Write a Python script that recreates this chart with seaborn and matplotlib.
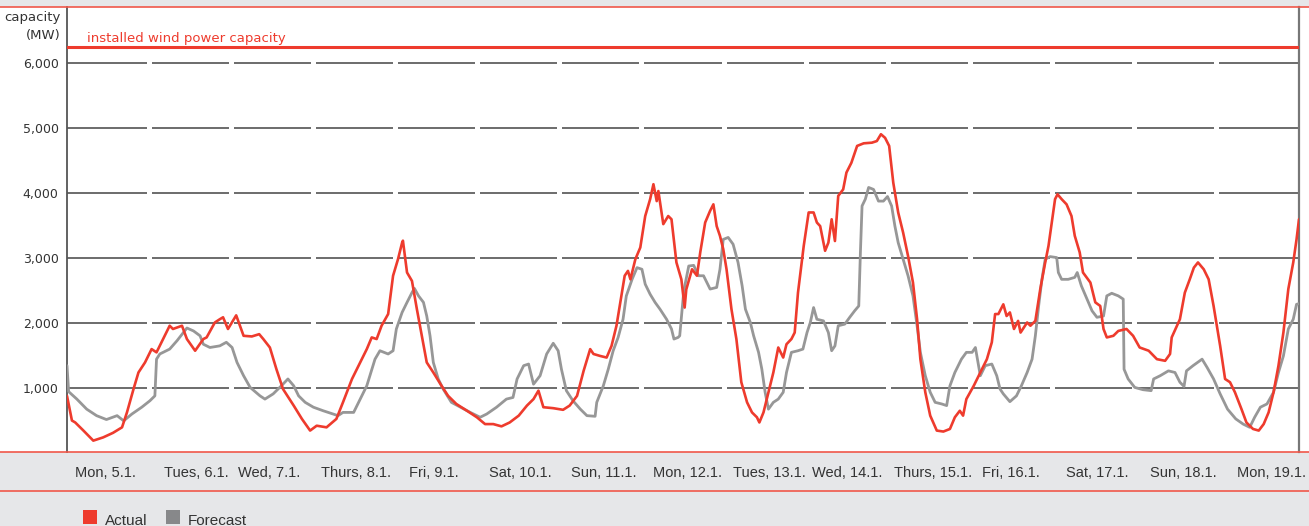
import numpy as np
import matplotlib
matplotlib.use("Agg")
import matplotlib.pyplot as plt
import seaborn as sns
from matplotlib.lines import Line2D
from matplotlib.patches import Rectangle

# Wind power, 5.1. - 19.1. (time in days from Mon 5.1. 00:00, values in MW)
actual_t = [0.00, 0.06, 0.10, 0.20, 0.32, 0.44, 0.56, 0.67, 0.73, 0.81, 0.87, 0.95,
            1.03, 1.09, 1.17, 1.25, 1.29, 1.40, 1.46, 1.56, 1.66, 1.70, 1.80, 1.86,
            1.90, 1.96, 2.06, 2.15, 2.25, 2.34, 2.39, 2.47, 2.55, 2.63, 2.76, 2.86,
            2.96, 3.04, 3.16, 3.28, 3.36, 3.47, 3.57, 3.65, 3.71, 3.77, 3.83, 3.91,
            3.97, 4.03, 4.08, 4.09, 4.14, 4.20, 4.26, 4.32, 4.38, 4.46, 4.56, 4.64,
            4.74, 4.87, 4.99, 5.09, 5.19, 5.29, 5.39, 5.50, 5.60, 5.68, 5.74, 5.80,
            5.92, 6.04, 6.12, 6.21, 6.29, 6.37, 6.41, 6.49, 6.57, 6.63, 6.69, 6.73,
            6.79, 6.83, 6.86, 6.92, 6.98, 7.04, 7.10, 7.14, 7.18, 7.20, 7.26, 7.32,
            7.36, 7.42, 7.48, 7.52, 7.54, 7.61, 7.67, 7.71, 7.77, 7.83, 7.87, 7.91,
            7.95, 7.99, 8.03, 8.09, 8.15, 8.21, 8.28, 8.34, 8.40, 8.43, 8.48, 8.54,
            8.60, 8.66, 8.72, 8.76, 8.82, 8.86, 8.90, 8.97, 9.03, 9.09, 9.13, 9.17,
            9.23, 9.27, 9.31, 9.35, 9.39, 9.45, 9.49, 9.55, 9.62, 9.70, 9.80, 9.86,
            9.91, 9.96, 10.01, 10.06, 10.12, 10.18, 10.24, 10.30, 10.35, 10.39, 10.45,
            10.51, 10.59, 10.67, 10.75, 10.81, 10.87, 10.91, 10.95, 11.04, 11.12,
            11.20, 11.26, 11.30, 11.34, 11.40, 11.44, 11.48, 11.53, 11.58, 11.61,
            11.69, 11.73, 11.79, 11.85, 11.91, 11.95, 11.99, 12.03, 12.06, 12.11,
            12.17, 12.23, 12.27, 12.33, 12.37, 12.46, 12.52, 12.58, 12.62, 12.66,
            12.74, 12.80, 12.90, 12.98, 13.06, 13.17, 13.27, 13.37, 13.43, 13.45,
            13.55, 13.61, 13.67, 13.72, 13.77, 13.84, 13.90, 13.96, 14.04, 14.10,
            14.16, 14.22, 14.30, 14.36, 14.44, 14.51, 14.57, 14.63, 14.69, 14.75,
            14.81, 14.87, 14.93, 14.97, 15.00]
actual_mw = [880, 500, 470, 345, 190, 240, 310, 395, 625, 985, 1240, 1395,
             1600, 1550, 1755, 1960, 1910, 1960, 1755, 1575, 1755, 1780, 2010, 2060,
             2090, 1910, 2120, 1805, 1795, 1830, 1755, 1625, 1290, 985, 730, 525,
             345, 420, 395, 525, 780, 1140, 1395, 1600, 1780, 1755, 1960, 2140,
             2730, 2985, 3240, 3270, 2780, 2650, 2215, 1805, 1395, 1240, 1035, 880,
             755, 650, 550, 445, 445, 410, 470, 575, 730, 830, 960, 705,
             690, 665, 730, 880, 1265, 1600, 1525, 1495, 1470, 1650, 1960, 2265,
             2730, 2805, 2675, 2985, 3165, 3650, 3910, 4140, 3880, 4035, 3525, 3650,
             3600, 2935, 2675, 2240, 2520, 2830, 2730, 3090, 3550, 3730, 3830, 3495,
             3345, 3140, 2830, 2215, 1755, 1090, 780, 625, 550, 470, 625, 935,
             1240, 1625, 1470, 1675, 1755, 1855, 2470, 3190, 3705, 3705, 3550, 3495,
             3115, 3240, 3600, 3265, 3960, 4060, 4320, 4470, 4730, 4770, 4780, 4805,
             4910, 4855, 4730, 4165, 3705, 3395, 3035, 2625, 2060, 1445, 935,
             575, 345, 330, 370, 550, 650, 575, 830, 1035, 1240,
             1445, 1705, 2140, 2140, 2290, 2110, 2165, 1910, 2035, 1855,
             2010, 1960, 2035, 2525, 2935, 3190, 3550, 3910, 3985, 3910,
             3830, 3650, 3345, 3090, 2780, 2625, 2320, 2265, 1910, 1780,
             1805, 1880, 1910, 1805, 1625, 1575, 1445, 1420, 1525, 1780,
             2060, 2470, 2675, 2855, 2935, 2830, 2675, 2265, 1650, 1140,
             1090, 935, 675, 470, 370, 345, 445, 625, 935, 1345,
             1855, 2525, 2935, 3290, 3600]

forecast_t = [0.00, 0.02, 0.12, 0.24, 0.36, 0.48, 0.61, 0.69, 0.79, 0.91, 1.01, 1.07,
              1.09, 1.13, 1.25, 1.34, 1.46, 1.54, 1.62, 1.66, 1.74, 1.86, 1.94, 2.01,
              2.07, 2.15, 2.23, 2.35, 2.41, 2.51, 2.61, 2.69, 2.76, 2.82, 2.90, 3.00,
              3.12, 3.24, 3.30, 3.36, 3.49, 3.57, 3.65, 3.69, 3.75, 3.81, 3.91, 3.97,
              4.01, 4.08, 4.14, 4.20, 4.23, 4.28, 4.34, 4.38, 4.42, 4.46, 4.52, 4.58,
              4.68, 4.79, 4.91, 5.03, 5.11, 5.23, 5.35, 5.43, 5.48, 5.56, 5.62, 5.68,
              5.76, 5.84, 5.92, 5.98, 6.02, 6.08, 6.16, 6.25, 6.33, 6.43, 6.45, 6.53,
              6.59, 6.65, 6.71, 6.77, 6.81, 6.88, 6.94, 7.00, 7.04, 7.10, 7.16, 7.22,
              7.30, 7.36, 7.39, 7.44, 7.46, 7.51, 7.57, 7.63, 7.69, 7.75, 7.83, 7.91,
              7.95, 7.99, 8.05, 8.11, 8.17, 8.22, 8.26, 8.32, 8.36, 8.42, 8.46, 8.50,
              8.54, 8.60, 8.66, 8.72, 8.76, 8.82, 8.90, 8.96, 9.01, 9.05, 9.09, 9.13,
              9.21, 9.27, 9.31, 9.35, 9.39, 9.47, 9.53, 9.59, 9.64, 9.66, 9.68, 9.72,
              9.76, 9.82, 9.88, 9.94, 9.99, 10.04, 10.08, 10.12, 10.18, 10.24, 10.30,
              10.35, 10.39, 10.45, 10.51, 10.57, 10.65, 10.71, 10.75, 10.81, 10.89,
              10.95, 11.02, 11.06, 11.12, 11.18, 11.26, 11.32, 11.36, 11.40, 11.48,
              11.56, 11.62, 11.69, 11.75, 11.79, 11.83, 11.87, 11.91, 11.97, 12.05,
              12.07, 12.11, 12.19, 12.27, 12.30, 12.35, 12.42, 12.48, 12.54, 12.62,
              12.66, 12.72, 12.80, 12.86, 12.87, 12.92, 13.00, 13.10, 13.20, 13.23,
              13.31, 13.41, 13.49, 13.55, 13.60, 13.63, 13.71, 13.82, 13.88, 13.96,
              14.04, 14.13, 14.23, 14.32, 14.40, 14.46, 14.53, 14.61, 14.69, 14.75,
              14.81, 14.87, 14.93, 14.97, 15.00]
forecast_mw = [1345, 945, 830, 675, 575, 515, 575, 495, 600, 705, 805, 880,
               1445, 1525, 1600, 1730, 1925, 1880, 1805, 1675, 1625, 1650, 1705, 1625,
               1395, 1190, 1010, 880, 830, 910, 1035, 1140, 1035, 880, 780, 705,
               650, 600, 575, 625, 625, 830, 1035, 1200, 1445, 1575, 1525, 1575,
               1910, 2165, 2320, 2470, 2535, 2420, 2320, 2110, 1805, 1395, 1140, 985,
               780, 705, 625, 550, 600, 705, 830, 855, 1140, 1345, 1370, 1060,
               1190, 1525, 1690, 1575, 1290, 960, 805, 675, 575, 565, 780, 1035,
               1290, 1575, 1780, 2060, 2420, 2675, 2855, 2830, 2600, 2445, 2320, 2215,
               2060, 1910, 1755, 1780, 1805, 2500, 2880, 2890, 2730, 2730, 2525, 2550,
               2830, 3290, 3320, 3215, 2935, 2575, 2215, 2010, 1805, 1550, 1290, 935,
               675, 780, 830, 935, 1240, 1550, 1575, 1600, 1855, 2010, 2240, 2060,
               2035, 1855, 1575, 1650, 1960, 1985, 2090, 2190, 2265, 3090, 3805, 3910,
               4090, 4060, 3880, 3880, 3950, 3805, 3495, 3240, 2985, 2730, 2420,
               1960, 1550, 1190, 935, 780, 755, 730, 1035, 1240, 1445,
               1550, 1550, 1625, 1190, 1345, 1370, 1190, 985, 910, 790,
               880, 1035, 1240, 1445, 1805, 2265, 2675, 2985, 3025, 3010,
               2780, 2675, 2675, 2705, 2780, 2575, 2370, 2190, 2090, 2110,
               2420, 2460, 2420, 2370, 1290, 1140, 1010, 975, 960, 1140,
               1190, 1265, 1240, 1090, 1025, 1265, 1345, 1445, 1320, 1140,
               910, 675, 525, 445, 395, 550, 705, 755, 935, 1240,
               1495, 1910, 2060, 2290, 2300]

installed_capacity = 6260
day_labels = ["Mon, 5.1.", "Tues, 6.1.", "Wed, 7.1.", "Thurs, 8.1.", "Fri, 9.1.",
              "Sat, 10.1.", "Sun, 11.1.", "Mon, 12.1.", "Tues, 13.1.", "Wed, 14.1.",
              "Thurs, 15.1.", "Fri, 16.1.", "Sat, 17.1.", "Sun, 18.1.", "Mon, 19.1."]
label_pos = [0.47, 1.57, 2.46, 3.52, 4.47, 5.52, 6.53, 7.55, 8.55, 9.50,
             10.54, 11.49, 12.54, 13.59, 14.66]
y_ticks = [1000, 2000, 3000, 4000, 5000, 6000]

red = "#ee3b2d"
grey = "#979797"
band = "#e6e7e9"
frame_red = "#f0574a"
label_font = ["Liberation Sans", "DejaVu Sans"]

sns.set_style("white")
plt.rcParams["font.family"] = ["DejaVu Sans"]

W, H = 1309, 526
fig = plt.figure(figsize=(W / 100, H / 100), dpi=100, facecolor=band)

# white panel behind the chart
fig.patches.append(Rectangle((0, 1 - 452 / H), 1, (452 - 7) / H,
                             transform=fig.transFigure, facecolor="white",
                             edgecolor="none", zorder=-5))
for yy in [7, 452, 491]:
    fig.lines.append(Line2D([0, 1], [1 - yy / H] * 2, transform=fig.transFigure,
                            color=frame_red, lw=1.2, zorder=5))

ax = fig.add_axes([67 / W, 1 - 452 / H, (1299 - 67) / W, (452 - 7) / H])
ax.set_facecolor("white")

# grid lines broken at every day boundary
n_days = len(day_labels)
gap = 0.03
starts = [0] + [d + gap for d in range(1, n_days)]
ends = [d - gap for d in range(1, n_days)] + [n_days]
for lev in y_ticks:
    ax.hlines([lev] * n_days, starts, ends, color="#444444", lw=1.1, zorder=1)

ax.axhline(installed_capacity, color=red, lw=2.2, zorder=3)
ax.text(0.24, installed_capacity + 20, "installed wind power capacity",
        color=red, fontsize=9.5, va="bottom", ha="left")

sns.lineplot(x=forecast_t, y=forecast_mw, ax=ax, color=grey, lw=2,
             estimator=None, sort=False, zorder=4)
sns.lineplot(x=actual_t, y=actual_mw, ax=ax, color=red, lw=1.9,
             estimator=None, sort=False, zorder=5)

ax.set_xlim(0, n_days)
ax.set_ylim(15, 6870)
ax.set_yticks(y_ticks)
ax.set_yticklabels([f"{v:,}" for v in y_ticks], fontsize=9, color="#333333")
ax.set_xticks(label_pos)
ax.set_xticklabels(day_labels, fontsize=10.5, color="#333333", family=label_font)
ax.tick_params(axis="y", length=0, pad=6)
ax.tick_params(axis="x", length=0, pad=10)
ax.set_xlabel("")
ax.set_ylabel("")

for side in ["top", "bottom"]:
    ax.spines[side].set_visible(False)
ax.spines["left"].set_color("#555555")
ax.spines["left"].set_linewidth(1.3)
ax.spines["right"].set_color("#777777")
ax.spines["right"].set_linewidth(1.6)

fig.text(61 / W, 1 - 11 / H, "capacity\n(MW)", ha="right", va="top",
         fontsize=9.5, color="#333333", linespacing=1.5)

# legend
for x0, col, lab in [(83, red, "Actual"), (166, "#87888a", "Forecast")]:
    fig.patches.append(Rectangle((x0 / W, 1 - 524 / H), 14 / W, 14 / H,
                                 transform=fig.transFigure, facecolor=col,
                                 edgecolor="none"))
    fig.text((x0 + 22) / W, 1 - 528 / H, lab, ha="left", va="bottom",
             fontsize=11, color="#333333", family=label_font)

fig.savefig("out.png", dpi=100, facecolor=band)
